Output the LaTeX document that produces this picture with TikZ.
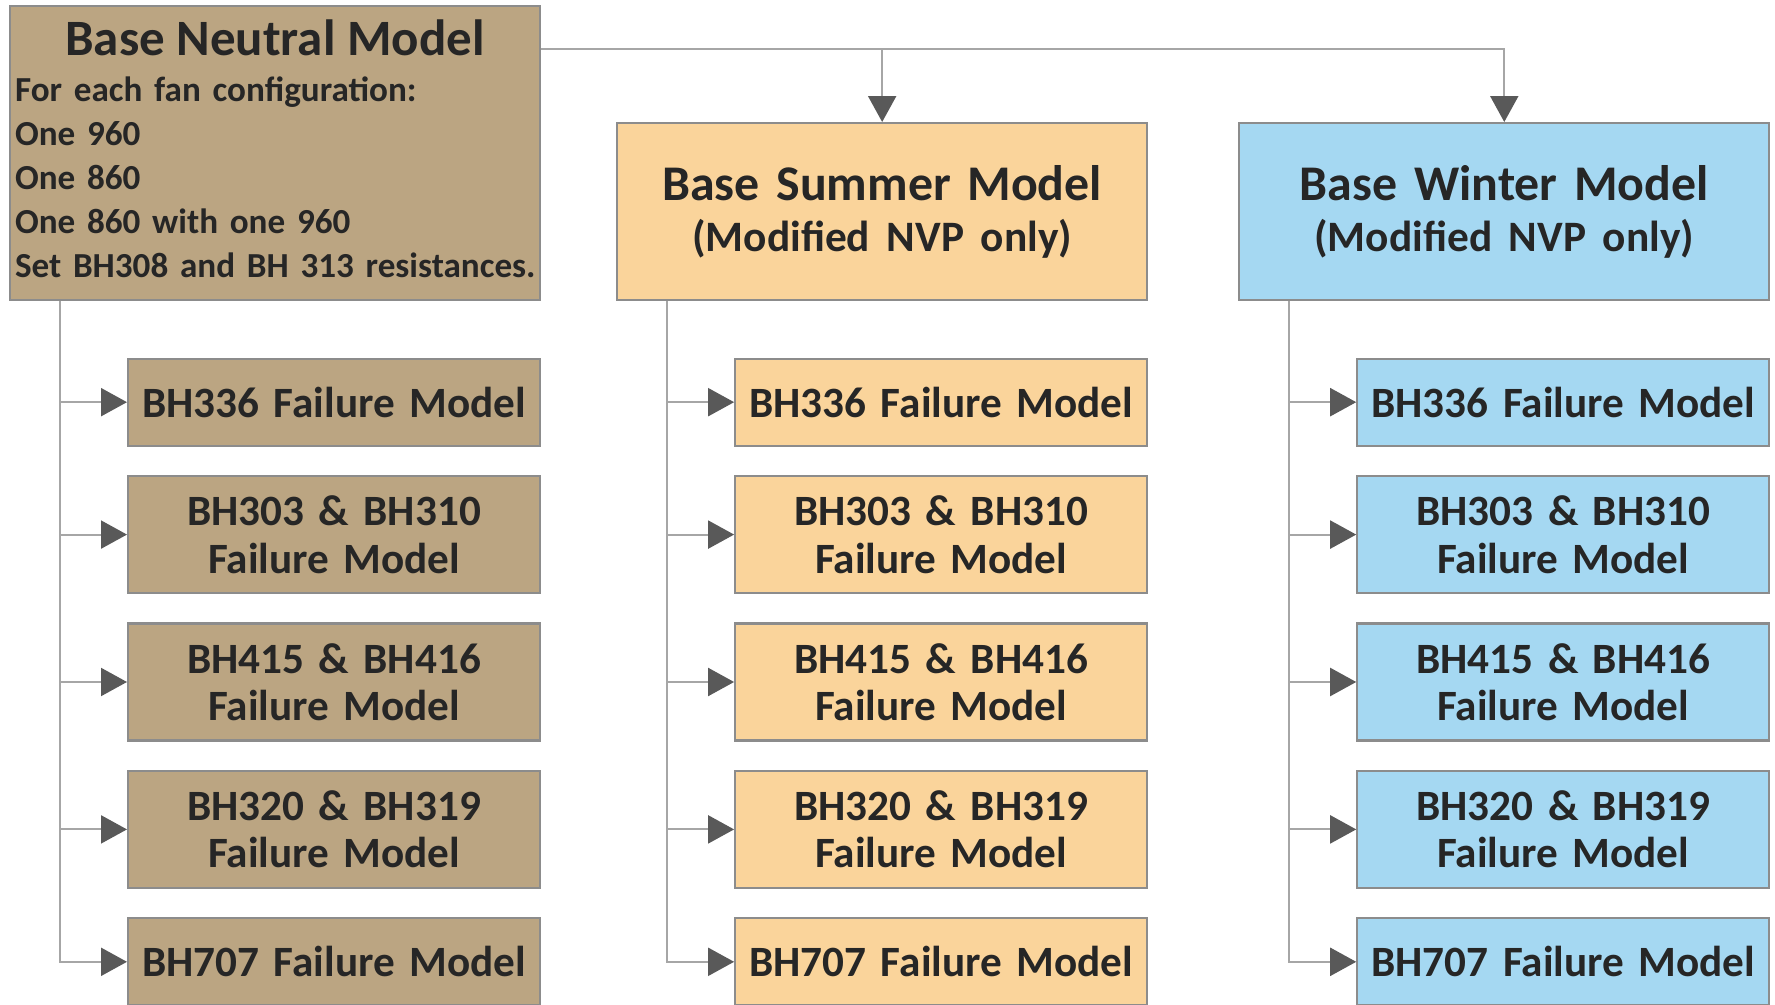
\documentclass[tikz,border=0pt]{standalone}
\usepackage{fontspec}
\setmainfont{Carlito}[WordSpace=0.8]
\usepackage{xcolor}
\usepackage{tikz}
\usetikzlibrary{arrows.meta, positioning}
\definecolor{neutralfill}{HTML}{BBA582}
\definecolor{summerfill}{HTML}{FAD49B}
\definecolor{winterfill}{HTML}{A5D8F2}
\definecolor{edgegray}{HTML}{8C8C8C}
\definecolor{linegray}{HTML}{A6A6A6}
\definecolor{tipgray}{HTML}{595959}
\definecolor{txtgray}{HTML}{262626}
\tikzset{
	basebox/.style={rectangle, draw=edgegray, line width=0.6pt, text width=5.1cm,
		minimum width=5.30cm, minimum height=1.77cm, inner sep=0pt, align=center,
		text=txtgray, font=\fontsize{14.2}{14.5}\selectfont\bfseries},
	failbox/.style={rectangle, draw=edgegray, line width=0.6pt, text width=4.0cm,
		minimum width=4.12cm, minimum height=0.87cm, inner sep=0pt, align=center,
		text=txtgray, font=\fontsize{12.3}{13.5}\selectfont\bfseries},
	tallbox/.style={failbox, minimum height=1.17cm},
	arr/.style={-{Triangle[length=0.26cm, width=0.28cm, color=tipgray]}, draw=linegray, line width=0.6pt},
}

\begin{document}
\begin{tikzpicture}
	
	\useasboundingbox (0,0) rectangle (17.75,-10.04);
	\clip (0,0) rectangle (17.75,-10.04);
	
	\node[basebox, fill=neutralfill, anchor=north west, minimum height=2.94cm, text width=5.20cm,
		inner xsep=0.05cm, align=left, font=\fontsize{10}{12.5}\selectfont\bfseries] (nbase) at (0.09,-0.05)
		{\parbox[c][2.94cm][t]{5.20cm}{\raggedright\vspace*{4pt}%
		\makebox[\linewidth]{\fontsize{14.5}{12.5}\selectfont\color{txtgray}Base Neutral Model}\\[0.6pt]
		For each fan configuration:\\One 960\\One 860\\One 860 with one 960\\\mbox{Set BH308 and BH 313 resistances.}}};
	\node[basebox, fill=summerfill, below right=1.17cm and 0.75cm of nbase.north east] (sbase)
		{Base Summer Model\\{\fontsize{12.35}{14.5}\selectfont (Modified NVP only)}};
	\node[basebox, fill=winterfill, right=0.90cm of sbase] (wbase)
		{Base Winter Model\\{\fontsize{12.35}{14.5}\selectfont (Modified NVP only)}};
	
	\draw[arr] ([yshift=-0.44cm]nbase.north east) -| (sbase);
	\draw[arr] ([yshift=-0.44cm]nbase.north east) -| (wbase);
	
	\node[failbox, fill=neutralfill, below=0.565cm of nbase.south east, anchor=north east] (n1) {BH336 Failure Model};
	\node[tallbox, fill=neutralfill, below=0.283cm of n1] (n2) {BH303 \& BH310\\Failure Model};
	\node[tallbox, fill=neutralfill, below=0.283cm of n2] (n3) {BH415 \& BH416\\Failure Model};
	\node[tallbox, fill=neutralfill, below=0.283cm of n3] (n4) {BH320 \& BH319\\Failure Model};
	\node[failbox, fill=neutralfill, below=0.283cm of n4] (n5) {BH707 Failure Model};
	
	\node[failbox, fill=summerfill, below=0.565cm of sbase.south east, anchor=north east] (s1) {BH336 Failure Model};
	\node[tallbox, fill=summerfill, below=0.283cm of s1] (s2) {BH303 \& BH310\\Failure Model};
	\node[tallbox, fill=summerfill, below=0.283cm of s2] (s3) {BH415 \& BH416\\Failure Model};
	\node[tallbox, fill=summerfill, below=0.283cm of s3] (s4) {BH320 \& BH319\\Failure Model};
	\node[failbox, fill=summerfill, below=0.283cm of s4] (s5) {BH707 Failure Model};
	
	\node[failbox, fill=winterfill, below=0.565cm of wbase.south east, anchor=north east] (w1) {BH336 Failure Model};
	\node[tallbox, fill=winterfill, below=0.283cm of w1] (w2) {BH303 \& BH310\\Failure Model};
	\node[tallbox, fill=winterfill, below=0.283cm of w2] (w3) {BH415 \& BH416\\Failure Model};
	\node[tallbox, fill=winterfill, below=0.283cm of w3] (w4) {BH320 \& BH319\\Failure Model};
	\node[failbox, fill=winterfill, below=0.283cm of w4] (w5) {BH707 Failure Model};
	
	\draw[arr] ([xshift=0.51cm]nbase.south west) |- (n1);
	\draw[arr] ([xshift=0.51cm]nbase.south west) |- (n2);
	\draw[arr] ([xshift=0.51cm]nbase.south west) |- (n3);
	\draw[arr] ([xshift=0.51cm]nbase.south west) |- (n4);
	\draw[arr] ([xshift=0.51cm]nbase.south west) |- (n5);
	
	\draw[arr] ([xshift=0.51cm]sbase.south west) |- (s1);
	\draw[arr] ([xshift=0.51cm]sbase.south west) |- (s2);
	\draw[arr] ([xshift=0.51cm]sbase.south west) |- (s3);
	\draw[arr] ([xshift=0.51cm]sbase.south west) |- (s4);
	\draw[arr] ([xshift=0.51cm]sbase.south west) |- (s5);
	
	\draw[arr] ([xshift=0.51cm]wbase.south west) |- (w1);
	\draw[arr] ([xshift=0.51cm]wbase.south west) |- (w2);
	\draw[arr] ([xshift=0.51cm]wbase.south west) |- (w3);
	\draw[arr] ([xshift=0.51cm]wbase.south west) |- (w4);
	\draw[arr] ([xshift=0.51cm]wbase.south west) |- (w5);
	
\end{tikzpicture}
\end{document}
